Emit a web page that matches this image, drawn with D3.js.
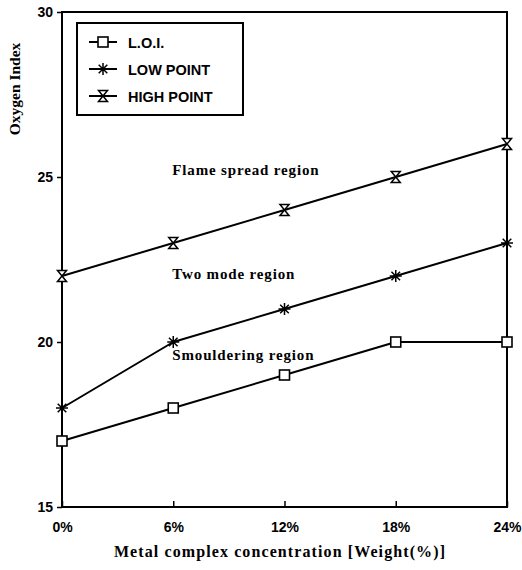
<!DOCTYPE html>
<html>
<head>
<meta charset="utf-8">
<script src="https://cdn.jsdelivr.net/npm/d3@7"></script>
<style>
  body { margin: 0; background: #fff; }
  .tick text { font-family: "Liberation Sans", Arial, sans-serif; font-weight: bold; font-size: 14px; }
</style>
</head>
<body>
<div id="chart"></div>
<script>
// Data.
const categories = ["0%", "6%", "12%", "18%", "24%"];
const loi = [17, 18, 19, 20, 20];
const lowPoint = [18, 20, 21, 22, 23];
const highPoint = [22, 23, 24, 25, 26];
const yTicks = [15, 20, 25, 30];
const seriesNames = ["L.O.I.", "LOW POINT", "HIGH POINT"];
const regionLabels = [
  { text: "Flame spread region", cat: "6%", value: 25.05 },
  { text: "Two mode region", cat: "6%", value: 21.9 },
  { text: "Smouldering region", cat: "6%", value: 19.45 }
];

const width = 522, height = 570;
const margin = { top: 12, right: 15, bottom: 63, left: 62 };
const serif = "'Liberation Serif', 'Times New Roman', serif";

const svg = d3.select("#chart").append("svg")
  .attr("width", width)
  .attr("height", height);

const x = d3.scalePoint()
  .domain(categories)
  .range([margin.left, width - margin.right]);

const y = d3.scaleLinear()
  .domain([15, 30])
  .range([height - margin.bottom, margin.top]);

// Frame.
svg.append("rect")
  .attr("x", margin.left)
  .attr("y", margin.top)
  .attr("width", width - margin.left - margin.right)
  .attr("height", height - margin.top - margin.bottom)
  .attr("fill", "none")
  .attr("stroke", "#000")
  .attr("stroke-width", 2);

// X axis, ticks pointing inward.
svg.append("g")
  .attr("transform", `translate(0,${height - margin.bottom})`)
  .call(d3.axisBottom(x).tickSize(-6).tickPadding(15))
  .call(g => g.select(".domain").remove())
  .call(g => g.selectAll("line").attr("stroke-width", 1.5));

// Y axis, ticks pointing outward.
svg.append("g")
  .attr("transform", `translate(${margin.left},0)`)
  .call(d3.axisLeft(y).tickValues(yTicks).tickSize(5).tickPadding(4))
  .call(g => g.select(".domain").remove())
  .call(g => g.selectAll("line").attr("stroke-width", 1.5));

// Axis titles.
svg.append("text")
  .attr("x", 280)
  .attr("y", 557)
  .attr("text-anchor", "middle")
  .attr("font-family", serif)
  .attr("font-weight", "bold")
  .attr("font-size", 16)
  .attr("letter-spacing", 1.1)
  .text("Metal complex concentration [Weight(%)]");

svg.append("text")
  .attr("transform", `translate(20,89) rotate(-90)`)
  .attr("text-anchor", "middle")
  .attr("font-family", serif)
  .attr("font-weight", "bold")
  .attr("font-size", 15.5)
  .text("Oxygen Index");

// Marker shapes.
const markers = [
  // square
  g => g.append("rect").attr("x", -5).attr("y", -5).attr("width", 10).attr("height", 10)
        .attr("fill", "#fff").attr("stroke", "#000").attr("stroke-width", 1.6),
  // asterisk
  g => g.append("path")
        .attr("d", "M-6,0H6M0,-6V6M-4.3,-4.3L4.3,4.3M-4.3,4.3L4.3,-4.3")
        .attr("stroke", "#000").attr("stroke-width", 1.5),
  // hourglass
  g => g.append("path")
        .attr("d", "M-4.5,-5.5H4.5L-4.5,5.5H4.5Z")
        .attr("fill", "#fff").attr("stroke", "#000").attr("stroke-width", 1.5)
];

const series = [loi, lowPoint, highPoint];

const line = d3.line()
  .x((d, i) => x(categories[i]))
  .y(d => y(d));

series.forEach((s, k) => {
  svg.append("path")
    .datum(s)
    .attr("fill", "none")
    .attr("stroke", "#000")
    .attr("stroke-width", 2)
    .attr("stroke-linejoin", "round")
    .attr("d", line);

  s.forEach((v, i) => {
    const g = svg.append("g")
      .attr("transform", `translate(${x(categories[i])},${y(v)})`);
    markers[k](g);
  });
});

// Region labels.
regionLabels.forEach(r => {
  svg.append("text")
    .attr("x", x(r.cat) - 1)
    .attr("y", y(r.value))
    .attr("font-family", serif)
    .attr("font-weight", "bold")
    .attr("font-size", 15)
    .attr("letter-spacing", 0.85)
    .text(r.text);
});

// Legend.
const legend = svg.append("g").attr("transform", "translate(77,23)");
legend.append("rect")
  .attr("width", 166)
  .attr("height", 92)
  .attr("fill", "#fff")
  .attr("stroke", "#000")
  .attr("stroke-width", 2);

seriesNames.forEach((name, k) => {
  const ly = 19 + k * 27;
  legend.append("line")
    .attr("x1", 12).attr("x2", 40)
    .attr("y1", ly).attr("y2", ly)
    .attr("stroke", "#000").attr("stroke-width", 2);
  const g = legend.append("g").attr("transform", `translate(26,${ly})`);
  markers[k](g);
  legend.append("text")
    .attr("x", 51)
    .attr("y", ly + 5.5)
    .attr("font-family", "'Liberation Sans', Arial, sans-serif")
    .attr("font-weight", "bold")
    .attr("font-size", 14.5)
    .text(name);
});
</script>
</body>
</html>
